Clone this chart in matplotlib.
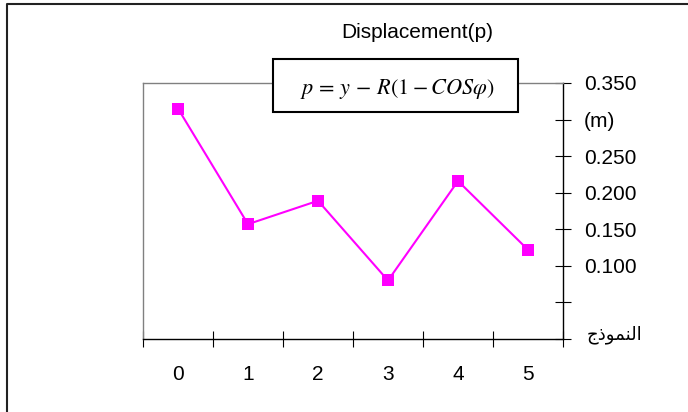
import matplotlib
matplotlib.use('Agg')
import matplotlib.pyplot as plt
import matplotlib.transforms as mtransforms
from matplotlib.lines import Line2D
from matplotlib.patches import Rectangle

plt.rcParams['font.family'] = ['Liberation Sans', 'DejaVu Sans']
plt.rcParams['mathtext.fontset'] = 'stix'

W, H, DPI = 688, 412, 100

# displacement p (m) for each model
models       = [0, 1, 2, 3, 4, 5]
displacement = [0.315, 0.157, 0.189, 0.080, 0.216, 0.122]

y_ticks = [0.0, 0.05, 0.10, 0.15, 0.20, 0.25, 0.30, 0.35]
# Arabic "النموذج" written in pre-shaped presentation forms, visual order
y_tick_labels = ['\uFE9D\uFEAB\uFEEE\uFEE4\uFEE8\uFEDF\uFE8D', '', '0.100', '0.150',
                 '0.200', '0.250', '(m)', '0.350']

title   = 'Displacement(p)'
formula = r'$p\,=\,y\,-\,R(1 - COS\varphi)$'


def px(x, y):
    # pixel (from top-left) -> figure fraction
    return x / W, 1 - y / H


fig = plt.figure(figsize=(W / DPI, H / DPI), dpi=DPI)
x0, y0 = px(143, 339)
x1, y1 = px(563, 83)
ax = fig.add_axes([x0, y0, x1 - x0, y1 - y0])

ax.plot(models, displacement, color='#FF00FF', lw=1.5, marker='s', markersize=8,
        markeredgewidth=0, zorder=3)

ax.set_xlim(-0.5, 5.5)
ax.set_ylim(0, 0.35)

# category boundaries get tick marks, centres get labels
ax.set_xticks([m - 0.5 for m in models] + [models[-1] + 0.5])
ax.set_xticklabels([])
ax.set_xticks(models, minor=True)
ax.set_xticklabels([str(m) for m in models], minor=True, fontsize=15)
ax.tick_params(axis='x', which='major', direction='inout', length=11, width=0.8, color='black')
ax.tick_params(axis='x', which='minor', length=0, pad=19)

ax.yaxis.tick_right()
ax.set_yticks(y_ticks)
ax.set_yticklabels(y_tick_labels, fontsize=15)
ax.tick_params(axis='y', direction='inout', length=12, width=0.8, color='black', pad=9)

# the Arabic label sits a little smaller and higher than the numbers
arabic = ax.get_yticklabels()[0]
arabic.set_fontsize(13)
arabic.set_transform(arabic.get_transform() +
                     mtransforms.ScaledTranslation(2 / 72, 5 / 72, fig.dpi_scale_trans))

for side in ['left', 'top']:
    ax.spines[side].set_color('#808080')
    ax.spines[side].set_linewidth(1.0)
for side in ['right', 'bottom']:
    ax.spines[side].set_color('black')
    ax.spines[side].set_linewidth(1.0)

# title over the chart
tx, ty = px(417, 33)
fig.text(tx, ty, title, fontsize=15, ha='center', va='center')

# formula box sitting on the top frame
bx0, by0 = px(273, 112)
bx1, by1 = px(518, 59)
fig.patches.append(Rectangle((bx0, by0), bx1 - bx0, by1 - by0, transform=fig.transFigure,
                             facecolor='white', edgecolor='black', lw=1.5, zorder=2))
fx, fy = px(397, 89)
fig.text(fx, fy, formula, fontsize=16, ha='center', va='center', zorder=3)

# outer chart frame (top and left edges)
lx, ty2 = px(6.5, 3.5)
fig.lines.append(Line2D([lx, lx, 1.0], [0.0, ty2, ty2], transform=fig.transFigure,
                        color='#222222', lw=1.5))

fig.savefig('out.png', dpi=DPI)
